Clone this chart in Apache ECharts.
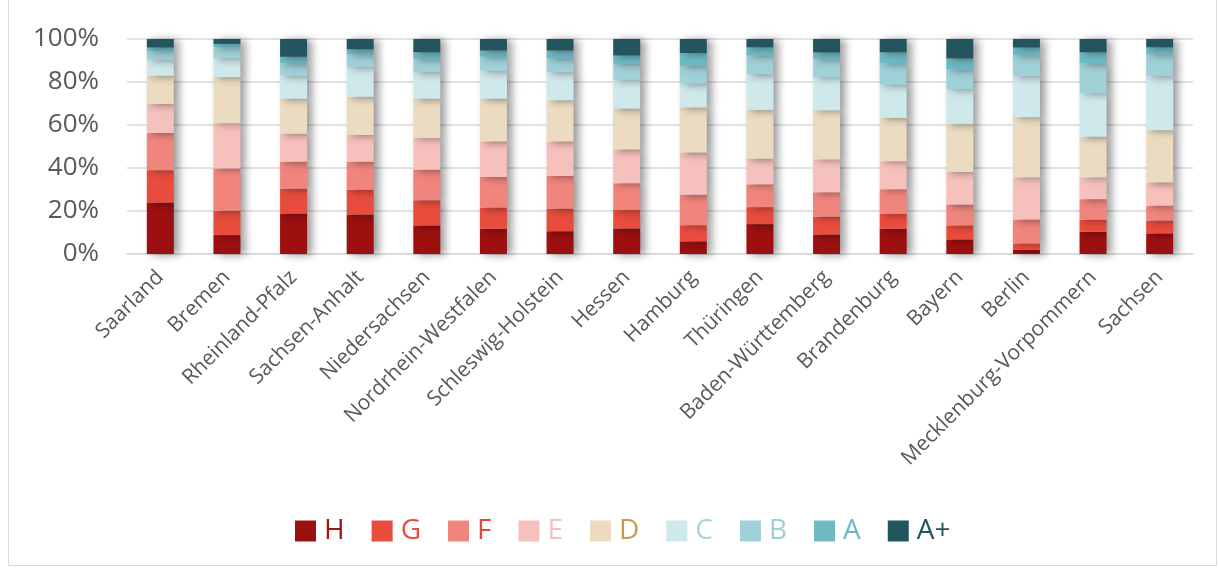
<!DOCTYPE html>
<html><head><meta charset="utf-8">
<script src="https://cdn.jsdelivr.net/npm/echarts@6/dist/echarts.min.js"></script>
<style>html,body{margin:0;padding:0;background:#fff;}#c{width:1219px;height:570px;}</style>
</head><body><div id="c"></div>
<script>
const states = ['Saarland','Bremen','Rheinland-Pfalz','Sachsen-Anhalt','Niedersachsen','Nordrhein-Westfalen','Schleswig-Holstein','Hessen','Hamburg','Thüringen','Baden-Württemberg','Brandenburg','Bayern','Berlin','Mecklenburg-Vorpommern','Sachsen'];
const classes = ['H','G','F','E','D','C','B','A','A+'];
const H  = [23.9, 8.8,18.8,18.4,13.3,11.7,10.6,11.9, 5.9,13.9, 9.1,11.7, 6.8, 1.9,10.3, 9.6];
const G  = [15.1,11.3,11.6,11.5,11.7, 9.9,10.5, 8.6, 7.5, 7.9, 8.3, 7.0, 6.5, 3.0, 5.7, 6.0];
const F  = [17.3,19.7,12.5,13.0,14.2,14.2,15.2,12.4,14.2,10.6,11.3,11.4, 9.7,11.1, 9.5, 6.9];
const E  = [13.5,21.0,13.0,12.5,14.8,16.5,16.0,15.7,19.6,11.9,15.3,13.0,15.1,19.6,10.1,10.7];
const D  = [13.1,21.5,16.3,17.7,18.2,19.9,19.2,19.0,20.9,22.7,22.8,20.2,22.4,28.0,18.9,24.4];
const C  = [ 7.4, 8.7,10.7,13.9,12.4,13.0,13.1,13.4,11.1,16.5,15.5,15.4,16.2,19.1,20.2,25.1];
const B  = [ 4.1, 5.1, 5.7, 5.9, 6.1, 6.5, 6.3, 7.4, 8.3, 8.8, 8.3,10.0, 9.1, 9.7,13.9,10.2];
const A  = [ 1.6, 1.6, 3.1, 2.3, 3.1, 2.9, 3.7, 3.9, 6.0, 3.8, 3.1, 5.1, 5.1, 3.6, 5.2, 3.2];
const AP = [ 4.0, 2.3, 8.3, 4.8, 6.2, 5.4, 5.4, 7.7, 6.5, 3.9, 6.3, 6.2, 9.1, 4.0, 6.2, 3.9];
const yTicks = [0,20,40,60,80,100];

const seriesData = [H,G,F,E,D,C,B,A,AP];
const barColors = ['#9C1010','#E84C3D','#F0857D','#F6C1BD','#EBDBC0','#CFE8EC','#A0D1D8','#6FB9C4','#22555D'];
const legendTextColors = ['#9C1414','#E84C3D','#E8483B','#F4C1BD','#C99A4E','#A9D6DD','#9FD0D8','#6FB9C4','#22555D'];

const chart = echarts.init(document.getElementById('c'));
chart.setOption({
  animation:false,
  backgroundColor:'#fff',
  graphic:[{type:'rect',shape:{x:8.5,y:-2,width:1208,height:567.5},style:{fill:'none',stroke:'#d9d9d9',lineWidth:1},z:-1}],
  grid:{left:127,right:26,top:39,bottom:316},
  legend:{
    left:290, top:512, itemWidth:21, itemHeight:21, itemGap:27, icon:'rect',
    textStyle:{fontFamily:'Open Sans',fontSize:28,padding:[0,0,0,3]},
    data: classes.map((c,i)=>({name:c,textStyle:{color:legendTextColors[i]}}))
  },
  xAxis:{
    type:'category', data:states,
    axisLine:{show:true,lineStyle:{color:'#d9d9d9',width:1.5}},
    axisTick:{show:false},
    axisLabel:{rotate:45,interval:0,margin:20,color:'#595959',fontFamily:'Open Sans',fontSize:21}
  },
  yAxis:{
    type:'value', min:0, max:100, interval:20,
    axisLabel:{formatter:v=>v+'%',color:'#595959',fontFamily:'Open Sans',fontSize:26,margin:28},
    splitLine:{lineStyle:{color:'#d9d9d9',width:1.5}},
    axisLine:{show:false},axisTick:{show:false}
  },
  series: seriesData.map((d,i)=>({
    name:classes[i], type:'bar', stack:'total', barWidth:27, data:d,
    itemStyle:{color:barColors[i],shadowColor:'rgba(0,0,0,0.4)',shadowBlur:8,shadowOffsetX:5,shadowOffsetY:1}
  }))
});
</script></body></html>
